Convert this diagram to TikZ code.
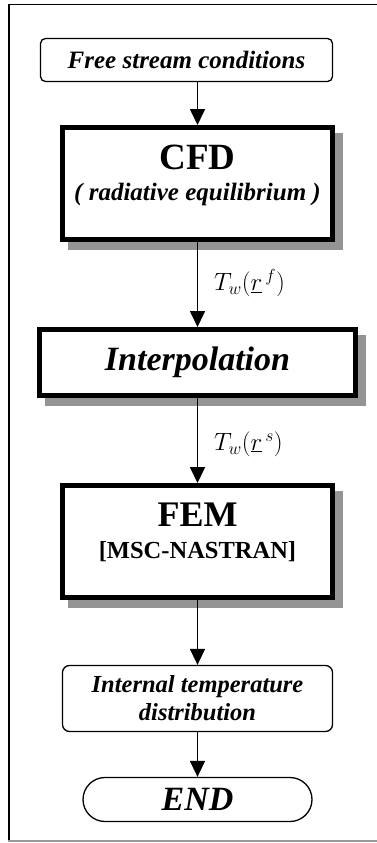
\documentclass[tikz,border=0pt]{standalone}
\usepackage{fix-cm}
\usepackage{fontspec}
\setmainfont{Liberation Serif}
\usetikzlibrary{arrows.meta,shapes.misc,backgrounds,calc}
\begin{document}
\begin{tikzpicture}[x=1pt,y=-1pt,
  thickbox/.style={draw, line width=5pt, fill=white, inner sep=0pt},
  softbox/.style={draw, line width=1.3pt, fill=white, rounded corners=5pt, inner sep=0pt, align=center},
  endbox/.style={draw, line width=1.3pt, fill=white, rounded rectangle, inner sep=0pt},
  flow/.style={line width=1.7pt, -{Triangle[width=15pt,length=16pt]}},
  shadecol/.style={fill=black!42},
  lbl/.style={anchor=west, inner sep=0pt, font=\fontsize{25}{28}\selectfont},
]
\useasboundingbox (0,0) rectangle (377,843);
% frame
\draw[line width=2pt] (8.5,4) -- (8.5,842);
\draw[line width=1.5pt] (8,4.5) -- (377,4.5);
\draw[line width=2pt, black!40] (8,841) -- (377,841);

% boxes
\node[softbox, minimum width=292pt, minimum height=43pt,
      font=\fontsize{25}{28}\selectfont\bfseries\itshape] (free) at (186.5,60) {Free stream conditions};
\node[thickbox, minimum width=270pt, minimum height=112pt] (cfd) at (197.5,183.5) {};
\node[inner sep=0pt, font=\fontsize{37}{40}\selectfont\bfseries] (cfdA) at (197.5,157) {CFD};
\node[inner sep=0pt, font=\fontsize{25}{28}\selectfont\bfseries\itshape] (cfdB) at (197.5,194) {( radiative equilibrium )};
\node[thickbox, minimum width=316pt, minimum height=66pt,
      font=\fontsize{34}{38}\selectfont\bfseries\itshape] (interp) at (197.5,362.5) {Interpolation};
\node[thickbox, minimum width=270pt, minimum height=112pt] (fem) at (197.5,541.5) {};
\node[inner sep=0pt, font=\fontsize{36}{40}\selectfont\bfseries] (femA) at (197.5,515) {FEM};
\node[inner sep=0pt, font=\fontsize{24.5}{28}\selectfont\bfseries] (femB) at (197.5,552) {[MSC-NASTRAN]};
\node[softbox, rounded corners=7pt, minimum width=270pt, minimum height=66pt,
      font=\fontsize{24.5}{28}\selectfont\bfseries\itshape] (internal) at (197.5,698.5) {Internal temperature\\distribution};
\node[endbox, minimum width=229pt, minimum height=44pt,
      font=\fontsize{34}{38}\selectfont\bfseries\itshape] (end) at (197.5,799.5) {END};

% shadows
\begin{scope}[on background layer]
\foreach \b in {cfd,interp,fem}
  \fill[shadecol] ($(\b.north west)+(8,8)$) rectangle ($(\b.south east)+(8,8)$);
\end{scope}

% connectors
\draw[flow] (free.south -| cfd.north) -- (cfd.north);
\draw[flow] (cfd.south) -- (interp.north);
\draw[flow] (interp.south) -- (fem.north);
\draw[flow] (fem.south) -- (internal.north);
\draw[flow] (internal.south) -- (end.north);

% labels
\node[lbl] (l1) at (214,283) {$T_w\bigl(\underline{r}^{\,f}\bigr)$};
\node[lbl] (l2) at (214,444) {$T_w\bigl(\underline{r}^{\,s}\bigr)$};
\end{tikzpicture}
\end{document}
